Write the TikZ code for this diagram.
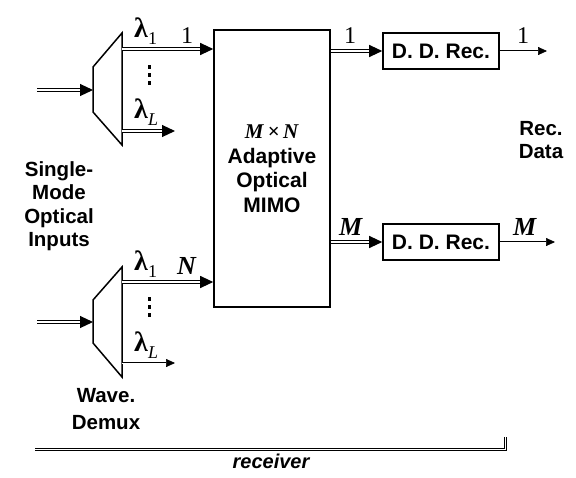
\documentclass[tikz,border=0pt]{standalone}
\usepackage{fontspec}
\setmainfont{Liberation Serif}
\setsansfont{Liberation Sans}
\usetikzlibrary{arrows.meta}
\newcommand{\lamsub}[1]{{\fontsize{28}{28}\selectfont\textbf{λ}}\raisebox{-7pt}{\fontsize{18}{18}\selectfont #1}}
\begin{document}
\begin{tikzpicture}[x=1pt,y=-1pt,
  lab/.style={font=\sffamily\bfseries\fontsize{20.5}{23.5}\selectfont, align=center, inner sep=0},
  mth/.style={font=\fontsize{24}{26}\selectfont, anchor=base west, inner sep=0},
  big/.style={font=\fontsize{26}{26}\selectfont\bfseries\itshape, anchor=base west, inner sep=0},
  dbl/.style={draw, line width=1.1pt, double=white, double distance=1.3pt, -{Triangle[length=13pt,width=12pt]}},
  thinarr/.style={draw, line width=0.7pt, double=white, double distance=0.6pt, -{Triangle[length=9pt,width=8pt]}},
  blk/.style={draw, line width=1.6pt, inner sep=0, font=\sffamily\bfseries\fontsize{21}{24.5}\selectfont, align=center},
  dmx/.style={draw, line width=1.5pt, line join=miter}
]
\useasboundingbox (0,0) rectangle (576,477);

% MIMO block
\node[blk, minimum width=116pt, minimum height=277pt] (mimo) at (272,168.5)
  {{\rmfamily\fontsize{21}{24.5}\selectfont\textbf{\textit{M}}\,×\,\textbf{\textit{N}}}\\Adaptive\\Optical\\MIMO};

% D. D. Rec. blocks
\node[blk, minimum width=116pt, minimum height=36pt] (dd1) at (441,51) {D. D. Rec.};
\node[blk, minimum width=116pt, minimum height=36pt] (dd2) at (441,242) {D. D. Rec.};

% upper demux
\draw[dmx] (93,67) -- (122,33) -- (122,145) -- (93,112) -- cycle;
\coordinate (in1) at (37,90);
\coordinate (d1l) at (93,90);
\coordinate (d1a) at (122,49);
\coordinate (d1b) at (122,131);
\coordinate (d1bend) at (175,131);

% lower demux
\draw[dmx] (93,300) -- (122,267) -- (122,377) -- (93,343) -- cycle;
\coordinate (in2) at (37,322);
\coordinate (d2l) at (93,322);
\coordinate (d2a) at (122,282);
\coordinate (d2b) at (122,363);
\coordinate (d2bend) at (175,363);

% connectors
\draw[dbl] (in1) -- (d1l);
\draw[dbl] (d1a) -- (d1a -| mimo.west);
\draw[dbl] (d1b) -- (d1bend);
\draw[dbl] (in2) -- (d2l);
\draw[dbl] (d2a) -- (d2a -| mimo.west);
\draw[thinarr] (d2b) -- (d2bend);
\draw[dbl] (mimo.east |- dd1.west) -- (dd1.west);
\draw[dbl] (mimo.east |- dd2.west) -- (dd2.west);
\coordinate (o1) at (547,51);
\coordinate (o2) at (555,242);
\draw[thinarr] (dd1.east) -- (o1);
\draw[thinarr] (dd2.east) -- (o2);

% vertical dots
\foreach \y in {67,75,83} \fill (147.5,\y-1.6) rectangle +(3.4,3.2);
\foreach \y in {299,307,315} \fill (147.5,\y-1.6) rectangle +(3.4,3.2);

% labels
\node[mth] (l11) at (134,37) {\lamsub{1}};
\node[mth] (n1a) at (181,43) {1};
\node[mth] (l1L) at (134,118) {\lamsub{\textit{L}}};
\node[mth] (l21) at (134,270) {\lamsub{1}};
\node[big] (nN) at (177,274) {N};
\node[mth] (l2L) at (134,351) {\lamsub{\textit{L}}};
\node[mth] (n1b) at (344,43) {1};
\node[mth] (n1c) at (517,43) {1};
\node[big] (nMa) at (339,235) {M};
\node[big] (nMb) at (513,235) {M};

\node[lab] (smi) at (59,206) {Single-\\Mode\\Optical\\Inputs};
\node[lab, font=\sffamily\bfseries\fontsize{20.5}{27}\selectfont] (wd) at (106,409) {Wave.\\Demux};
\node[lab] (rd) at (541,140) {Rec.\\Data};

% receiver bracket
\coordinate (b1) at (35,449);
\coordinate (b2) at (505,449);
\coordinate (b3) at (505,437);
\draw[line width=1pt, double=white, double distance=1pt] (b1) -- (b2) -- (b3);
\node[font=\sffamily\bfseries\itshape\fontsize{20}{24}\selectfont, inner sep=0] (rcv) at (271,461) {receiver};
\end{tikzpicture}
\end{document}
